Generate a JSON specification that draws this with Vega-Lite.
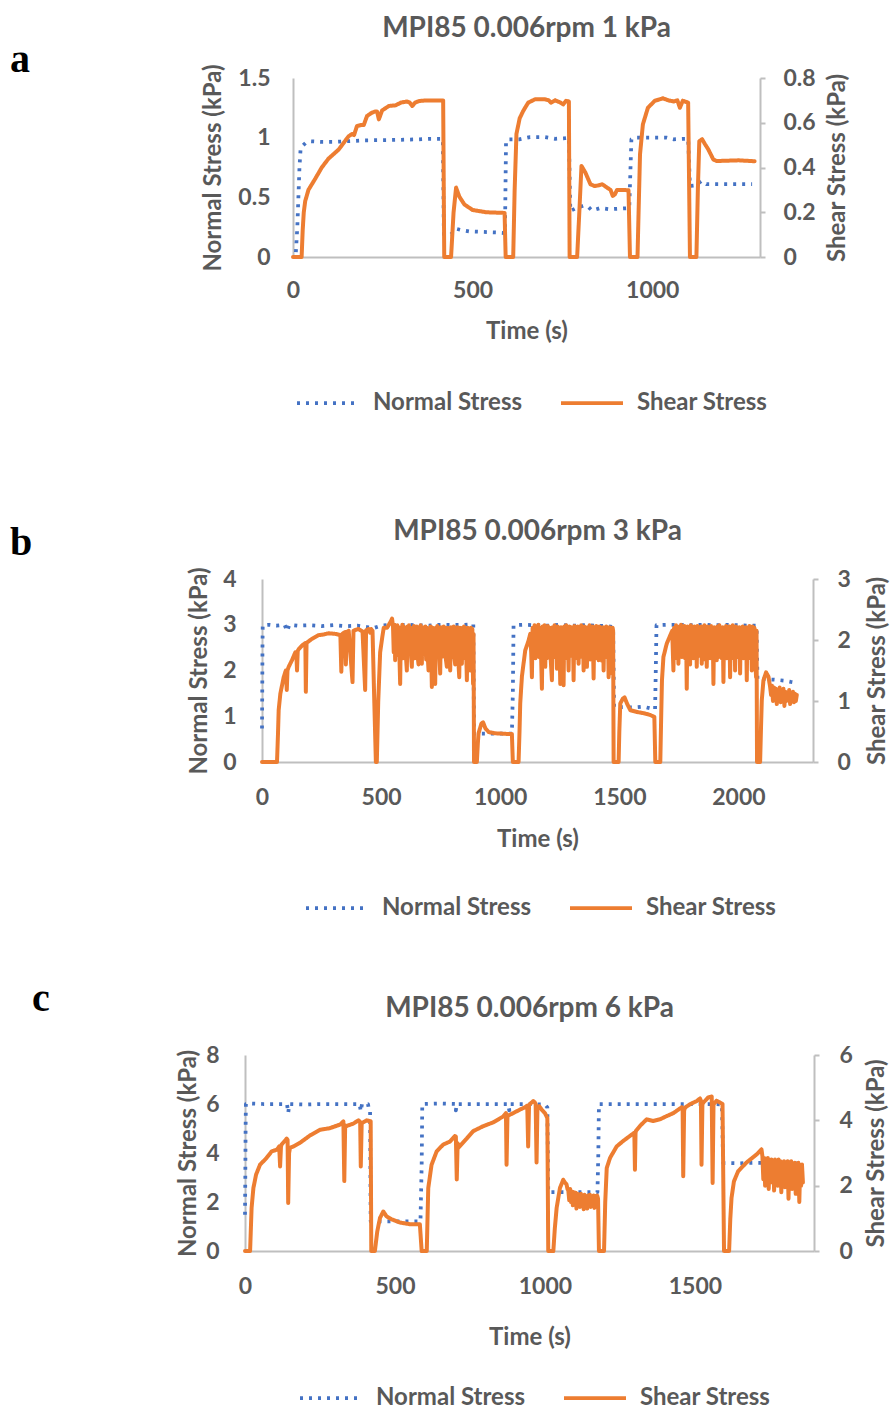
{
"$schema": "https://vega.github.io/schema/vega-lite/v6.json",
"background": "white",
"padding": {"left": 10, "top": 14, "right": 0, "bottom": 0},
"config": {
 "font": "Lato",
 "view": {"stroke": null},
 "axis": {"labelFont": "Lato", "labelFontWeight": "bold", "labelColor": "#595959", "labelFontSize": 23, "titleFont": "Lato", "titleFontWeight": "bold", "titleColor": "#595959", "titleFontSize": 24, "grid": false, "domainColor": "#BFBFBF", "domainWidth": 2, "tickColor": "#BFBFBF", "tickWidth": 2, "ticks": false},
 "title": {"font": "Lato", "fontWeight": "bold", "color": "#595959", "fontSize": 28},
 "legend": {"labelFont": "Lato", "labelFontSize": 24, "labelFontWeight": "bold", "labelColor": "#595959", "symbolSize": 3844, "symbolStrokeWidth": 3.75, "labelOffset": 12, "columnPadding": 30, "orient": "none", "direction": "horizontal"}
},
"datasets": {
"aN": [{"time":8,"stress":0.04},{"time":12,"stress":0.25},{"time":15,"stress":0.5},{"time":18,"stress":0.75},{"time":21,"stress":0.9},{"time":26,"stress":0.93},{"time":35,"stress":0.955},{"time":50,"stress":0.97},{"time":80,"stress":0.965},{"time":120,"stress":0.965},{"time":150,"stress":0.97},{"time":200,"stress":0.978},{"time":260,"stress":0.98},{"time":300,"stress":0.982},{"time":350,"stress":0.986},{"time":380,"stress":0.99},{"time":417,"stress":0.99},{"time":420,"stress":0.19},{"time":440,"stress":0.19},{"time":454,"stress":0.237},{"time":470,"stress":0.225},{"time":490,"stress":0.215},{"time":530,"stress":0.21},{"time":570,"stress":0.205},{"time":590,"stress":0.2},{"time":593,"stress":0.97},{"time":600,"stress":0.985},{"time":630,"stress":0.986},{"time":660,"stress":1.005},{"time":700,"stress":1.005},{"time":730,"stress":0.99},{"time":755,"stress":0.995},{"time":768,"stress":1.0},{"time":772,"stress":0.386},{"time":785,"stress":0.405},{"time":808,"stress":0.43},{"time":822,"stress":0.42},{"time":832,"stress":0.39},{"time":856,"stress":0.41},{"time":880,"stress":0.4},{"time":908,"stress":0.405},{"time":936,"stress":0.41},{"time":942,"stress":0.986},{"time":954,"stress":1.0},{"time":1000,"stress":1.0},{"time":1040,"stress":1.0},{"time":1060,"stress":0.986},{"time":1090,"stress":0.99},{"time":1100,"stress":0.99},{"time":1105,"stress":0.595},{"time":1120,"stress":0.6},{"time":1137,"stress":0.637},{"time":1151,"stress":0.61},{"time":1200,"stress":0.61},{"time":1278,"stress":0.61}],
"aS": [{"time":0,"stress":0},{"time":24,"stress":0},{"time":27,"stress":0.12},{"time":30,"stress":0.2},{"time":34,"stress":0.25},{"time":43,"stress":0.3},{"time":62,"stress":0.35},{"time":80,"stress":0.4},{"time":99,"stress":0.44},{"time":127,"stress":0.48},{"time":155,"stress":0.54},{"time":165,"stress":0.55},{"time":170,"stress":0.545},{"time":178,"stress":0.585},{"time":190,"stress":0.59},{"time":197,"stress":0.59},{"time":206,"stress":0.63},{"time":215,"stress":0.64},{"time":220,"stress":0.645},{"time":228,"stress":0.65},{"time":234,"stress":0.65},{"time":239,"stress":0.615},{"time":248,"stress":0.655},{"time":267,"stress":0.675},{"time":286,"stress":0.678},{"time":300,"stress":0.69},{"time":318,"stress":0.695},{"time":325,"stress":0.69},{"time":332,"stress":0.675},{"time":340,"stress":0.69},{"time":351,"stress":0.697},{"time":370,"stress":0.7},{"time":400,"stress":0.7},{"time":418,"stress":0.7},{"time":421,"stress":0},{"time":440,"stress":0},{"time":447,"stress":0.2},{"time":454,"stress":0.31},{"time":463,"stress":0.27},{"time":477,"stress":0.235},{"time":500,"stress":0.21},{"time":538,"stress":0.2},{"time":570,"stress":0.198},{"time":589,"stress":0.197},{"time":592,"stress":0},{"time":613,"stress":0},{"time":617,"stress":0.3},{"time":622,"stress":0.55},{"time":631,"stress":0.62},{"time":640,"stress":0.65},{"time":646,"stress":0.667},{"time":655,"stress":0.69},{"time":674,"stress":0.705},{"time":700,"stress":0.705},{"time":712,"stress":0.7},{"time":718,"stress":0.69},{"time":730,"stress":0.7},{"time":745,"stress":0.69},{"time":752,"stress":0.682},{"time":760,"stress":0.698},{"time":768,"stress":0.695},{"time":770,"stress":0},{"time":791,"stress":0},{"time":797,"stress":0.2},{"time":803,"stress":0.407},{"time":814,"stress":0.377},{"time":828,"stress":0.325},{"time":840,"stress":0.317},{"time":850,"stress":0.32},{"time":861,"stress":0.325},{"time":875,"stress":0.309},{"time":884,"stress":0.3},{"time":890,"stress":0.273},{"time":896,"stress":0.28},{"time":902,"stress":0.3},{"time":917,"stress":0.3},{"time":934,"stress":0.298},{"time":938,"stress":0},{"time":959,"stress":0},{"time":962,"stress":0.2},{"time":966,"stress":0.459},{"time":974,"stress":0.593},{"time":988,"stress":0.667},{"time":1007,"stress":0.698},{"time":1030,"stress":0.709},{"time":1045,"stress":0.7},{"time":1060,"stress":0.695},{"time":1070,"stress":0.7},{"time":1077,"stress":0.667},{"time":1085,"stress":0.698},{"time":1100,"stress":0.69},{"time":1105,"stress":0},{"time":1123,"stress":0},{"time":1127,"stress":0.3},{"time":1131,"stress":0.518},{"time":1139,"stress":0.526},{"time":1147,"stress":0.504},{"time":1156,"stress":0.481},{"time":1170,"stress":0.436},{"time":1179,"stress":0.429},{"time":1200,"stress":0.43},{"time":1240,"stress":0.432},{"time":1285,"stress":0.428}],
"bN": [{"time":0,"stress":0.73},{"time":1,"stress":1.5},{"time":2,"stress":2.5},{"time":3,"stress":2.99},{"time":30,"stress":3.0},{"time":60,"stress":2.98},{"time":95,"stress":3.0},{"time":105,"stress":2.86},{"time":115,"stress":3.0},{"time":150,"stress":2.98},{"time":200,"stress":2.99},{"time":250,"stress":2.97},{"time":300,"stress":2.99},{"time":350,"stress":2.97},{"time":400,"stress":2.98},{"time":440,"stress":2.95},{"time":470,"stress":2.93},{"time":500,"stress":2.98},{"time":550,"stress":3.0},{"time":600,"stress":3.0},{"time":650,"stress":2.99},{"time":700,"stress":2.98},{"time":750,"stress":3.0},{"time":800,"stress":3.0},{"time":850,"stress":3.0},{"time":887,"stress":3.01},{"time":890,"stress":0.62},{"time":920,"stress":0.62},{"time":960,"stress":0.62},{"time":1000,"stress":0.62},{"time":1049,"stress":0.62},{"time":1053,"stress":1.5},{"time":1056,"stress":2.99},{"time":1100,"stress":3.0},{"time":1150,"stress":2.99},{"time":1200,"stress":2.98},{"time":1250,"stress":3.0},{"time":1300,"stress":2.98},{"time":1350,"stress":2.99},{"time":1400,"stress":2.98},{"time":1450,"stress":2.97},{"time":1474,"stress":2.95},{"time":1478,"stress":1.2},{"time":1520,"stress":1.2},{"time":1560,"stress":1.19},{"time":1600,"stress":1.21},{"time":1640,"stress":1.16},{"time":1650,"stress":1.15},{"time":1653,"stress":2.0},{"time":1656,"stress":2.99},{"time":1700,"stress":3.0},{"time":1750,"stress":3.0},{"time":1800,"stress":2.99},{"time":1850,"stress":3.0},{"time":1900,"stress":2.99},{"time":1950,"stress":3.0},{"time":2000,"stress":2.99},{"time":2050,"stress":2.98},{"time":2076,"stress":2.98},{"time":2080,"stress":1.8},{"time":2110,"stress":1.81},{"time":2150,"stress":1.8},{"time":2190,"stress":1.78},{"time":2220,"stress":1.75},{"time":2243,"stress":1.73}],
"bS": [{"time":0,"stress":0},{"time":63,"stress":0},{"time":67,"stress":0.45},{"time":70,"stress":0.85},{"time":77,"stress":1.12},{"time":91,"stress":1.39},{"time":100,"stress":1.5},{"time":104,"stress":1.18},{"time":107,"stress":1.5},{"time":112,"stress":1.56},{"time":126,"stress":1.67},{"time":140,"stress":1.8},{"time":144,"stress":1.8},{"time":147,"stress":1.5},{"time":150,"stress":1.82},{"time":154,"stress":1.85},{"time":168,"stress":1.91},{"time":182,"stress":1.95},{"time":184,"stress":1.15},{"time":187,"stress":1.95},{"time":193,"stress":1.97},{"time":210,"stress":2.02},{"time":238,"stress":2.08},{"time":259,"stress":2.09},{"time":280,"stress":2.11},{"time":308,"stress":2.1},{"time":329,"stress":2.08},{"time":333,"stress":1.48},{"time":337,"stress":2.1},{"time":349,"stress":2.13},{"time":352,"stress":1.6},{"time":356,"stress":2.13},{"time":364,"stress":2.15},{"time":380,"stress":1.31},{"time":384,"stress":2.15},{"time":389,"stress":2.16},{"time":405,"stress":2.18},{"time":422,"stress":2.14},{"time":433,"stress":1.18},{"time":437,"stress":2.16},{"time":447,"stress":2.18},{"time":454,"stress":2.12},{"time":458,"stress":2.18},{"time":464,"stress":2.15},{"time":470,"stress":1.2},{"time":478,"stress":0},{"time":482,"stress":0},{"time":488,"stress":1.0},{"time":496,"stress":1.8},{"time":505,"stress":2.05},{"time":511,"stress":2.2},{"time":525,"stress":2.2},{"time":540,"stress":2.3},{"time":546,"stress":2.35},
{"time":550,"stress":2.22},{"time":553,"stress":1.8},{"time":556,"stress":2.25},{"time":559,"stress":1.67},{"time":562,"stress":2.2},{"time":565,"stress":1.75},{"time":568,"stress":2.24},{"time":571,"stress":1.85},{"time":574,"stress":2.21},{"time":577,"stress":1.72},{"time":580,"stress":1.28},{"time":583,"stress":2.2},{"time":586,"stress":1.82},{"time":589,"stress":2.25},{"time":592,"stress":1.7},{"time":595,"stress":2.22},{"time":598,"stress":1.86},{"time":601,"stress":2.2},{"time":604,"stress":1.74},{"time":608,"stress":1.5},{"time":611,"stress":2.22},{"time":614,"stress":1.8},{"time":617,"stress":2.24},{"time":620,"stress":1.88},{"time":623,"stress":2.18},{"time":626,"stress":1.72},{"time":629,"stress":1.56},{"time":632,"stress":2.2},{"time":635,"stress":1.84},{"time":638,"stress":2.23},{"time":641,"stress":1.7},{"time":644,"stress":2.19},{"time":647,"stress":1.83},{"time":650,"stress":2.22},{"time":653,"stress":1.75},{"time":657,"stress":1.6},{"time":660,"stress":2.2},{"time":663,"stress":1.78},{"time":666,"stress":2.24},{"time":671,"stress":1.61},{"time":674,"stress":2.18},{"time":677,"stress":1.76},{"time":680,"stress":2.21},{"time":683,"stress":1.86},{"time":686,"stress":2.22},{"time":689,"stress":1.68},{"time":692,"stress":2.2},{"time":695,"stress":1.8},{"time":699,"stress":1.5},{"time":702,"stress":2.19},{"time":705,"stress":1.74},{"time":708,"stress":2.22},{"time":713,"stress":1.23},{"time":716,"stress":2.2},{"time":719,"stress":1.82},{"time":722,"stress":2.18},{"time":727,"stress":1.28},{"time":730,"stress":2.2},{"time":733,"stress":1.72},{"time":736,"stress":2.23},{"time":739,"stress":1.85},{"time":742,"stress":2.2},{"time":745,"stress":1.7},{"time":748,"stress":1.45},{"time":751,"stress":2.21},{"time":754,"stress":1.8},{"time":757,"stress":2.19},{"time":760,"stress":1.73},{"time":763,"stress":2.22},{"time":766,"stress":1.86},{"time":769,"stress":2.2},{"time":772,"stress":1.68},{"time":776,"stress":1.56},{"time":779,"stress":2.2},{"time":782,"stress":1.8},{"time":785,"stress":2.18},{"time":790,"stress":1.5},{"time":793,"stress":2.21},{"time":796,"stress":1.72},{"time":799,"stress":2.2},{"time":802,"stress":1.84},{"time":805,"stress":2.22},{"time":808,"stress":1.7},{"time":811,"stress":1.6},{"time":814,"stress":2.19},{"time":817,"stress":1.8},{"time":820,"stress":2.21},{"time":823,"stress":1.74},{"time":828,"stress":1.39},{"time":831,"stress":2.2},{"time":834,"stress":1.82},{"time":839,"stress":1.61},{"time":842,"stress":2.2},{"time":845,"stress":1.75},{"time":848,"stress":2.22},{"time":851,"stress":1.7},{"time":854,"stress":2.18},{"time":857,"stress":1.83},{"time":860,"stress":1.34},{"time":863,"stress":2.2},{"time":866,"stress":1.78},{"time":869,"stress":2.19},{"time":874,"stress":1.5},{"time":877,"stress":2.2},{"time":880,"stress":1.74},{"time":883,"stress":2.18},{"time":886,"stress":1.28},{"time":888,"stress":2.1},
{"time":890,"stress":0},{"time":902,"stress":0},{"time":906,"stress":0.3},{"time":909,"stress":0.47},{"time":921,"stress":0.63},{"time":928,"stress":0.65},{"time":938,"stress":0.55},{"time":952,"stress":0.49},{"time":980,"stress":0.47},{"time":1010,"stress":0.465},{"time":1030,"stress":0.46},{"time":1049,"stress":0.46},{"time":1053,"stress":0},{"time":1077,"stress":0},{"time":1081,"stress":0.5},{"time":1084,"stress":0.96},{"time":1091,"stress":1.4},{"time":1105,"stress":1.83},{"time":1119,"stress":1.99},
{"time":1126,"stress":2.1},{"time":1130,"stress":1.8},{"time":1133,"stress":1.39},{"time":1136,"stress":2.2},{"time":1140,"stress":1.78},{"time":1144,"stress":2.24},{"time":1148,"stress":1.7},{"time":1152,"stress":2.22},{"time":1156,"stress":1.84},{"time":1160,"stress":2.25},{"time":1164,"stress":1.72},{"time":1168,"stress":2.2},{"time":1171,"stress":1.82},{"time":1175,"stress":1.2},{"time":1178,"stress":2.22},{"time":1182,"stress":1.75},{"time":1186,"stress":2.24},{"time":1189,"stress":1.56},{"time":1192,"stress":2.2},{"time":1196,"stress":1.7},{"time":1200,"stress":2.23},{"time":1204,"stress":1.85},{"time":1208,"stress":2.2},{"time":1212,"stress":1.68},{"time":1217,"stress":1.34},{"time":1220,"stress":2.21},{"time":1224,"stress":1.8},{"time":1228,"stress":2.24},{"time":1232,"stress":1.72},{"time":1235,"stress":2.2},{"time":1238,"stress":1.53},{"time":1241,"stress":2.22},{"time":1245,"stress":1.78},{"time":1248,"stress":2.2},{"time":1252,"stress":1.28},{"time":1255,"stress":2.21},{"time":1259,"stress":1.84},{"time":1262,"stress":2.2},{"time":1266,"stress":1.26},{"time":1269,"stress":2.22},{"time":1273,"stress":1.7},{"time":1277,"stress":2.24},{"time":1280,"stress":1.82},{"time":1283,"stress":2.2},{"time":1287,"stress":1.5},{"time":1290,"stress":2.22},{"time":1294,"stress":1.74},{"time":1298,"stress":2.21},{"time":1302,"stress":1.85},{"time":1305,"stress":2.2},{"time":1308,"stress":1.34},{"time":1311,"stress":2.23},{"time":1315,"stress":1.78},{"time":1319,"stress":2.2},{"time":1322,"stress":1.7},{"time":1325,"stress":2.22},{"time":1329,"stress":1.61},{"time":1332,"stress":2.2},{"time":1336,"stress":1.8},{"time":1340,"stress":2.24},{"time":1343,"stress":1.72},{"time":1347,"stress":2.2},{"time":1350,"stress":1.5},{"time":1353,"stress":2.22},{"time":1357,"stress":1.84},{"time":1360,"stress":2.2},{"time":1364,"stress":1.56},{"time":1367,"stress":2.21},{"time":1371,"stress":1.76},{"time":1375,"stress":2.24},{"time":1378,"stress":1.68},{"time":1382,"stress":2.2},{"time":1385,"stress":1.83},{"time":1388,"stress":2.22},{"time":1392,"stress":1.37},{"time":1395,"stress":2.2},{"time":1399,"stress":1.78},{"time":1403,"stress":2.23},{"time":1406,"stress":1.7},{"time":1410,"stress":2.2},{"time":1413,"stress":1.67},{"time":1416,"stress":2.22},{"time":1420,"stress":1.8},{"time":1424,"stress":2.2},{"time":1427,"stress":1.66},{"time":1431,"stress":2.21},{"time":1434,"stress":1.5},{"time":1437,"stress":2.2},{"time":1441,"stress":1.82},{"time":1445,"stress":2.22},{"time":1448,"stress":1.72},{"time":1452,"stress":2.2},{"time":1455,"stress":1.39},{"time":1458,"stress":2.21},{"time":1462,"stress":1.78},{"time":1466,"stress":2.2},{"time":1469,"stress":1.45},{"time":1472,"stress":2.2},{"time":1474,"stress":2.15},
{"time":1476,"stress":0},{"time":1497,"stress":0},{"time":1500,"stress":0.5},{"time":1504,"stress":0.96},{"time":1515,"stress":1.04},{"time":1522,"stress":1.06},{"time":1532,"stress":0.96},{"time":1546,"stress":0.85},{"time":1574,"stress":0.82},{"time":1602,"stress":0.8},{"time":1630,"stress":0.77},{"time":1647,"stress":0.74},{"time":1651,"stress":0},{"time":1672,"stress":0},{"time":1676,"stress":0.8},{"time":1679,"stress":1.34},{"time":1685,"stress":1.72},{"time":1699,"stress":1.94},{"time":1713,"stress":2.07},{"time":1722,"stress":2.15},
{"time":1727,"stress":1.5},{"time":1730,"stress":2.2},{"time":1734,"stress":1.8},{"time":1738,"stress":2.24},{"time":1741,"stress":1.7},{"time":1745,"stress":2.22},{"time":1748,"stress":1.61},{"time":1751,"stress":2.2},{"time":1755,"stress":1.82},{"time":1759,"stress":2.25},{"time":1762,"stress":1.72},{"time":1766,"stress":2.2},{"time":1769,"stress":1.85},{"time":1773,"stress":2.23},{"time":1776,"stress":1.7},{"time":1780,"stress":2.2},{"time":1783,"stress":1.2},{"time":1786,"stress":2.22},{"time":1790,"stress":1.78},{"time":1794,"stress":2.2},{"time":1797,"stress":1.6},{"time":1800,"stress":2.24},{"time":1804,"stress":1.82},{"time":1808,"stress":2.2},{"time":1811,"stress":1.7},{"time":1815,"stress":2.22},{"time":1818,"stress":1.84},{"time":1822,"stress":2.2},{"time":1825,"stress":1.56},{"time":1828,"stress":2.23},{"time":1832,"stress":1.74},{"time":1836,"stress":2.2},{"time":1839,"stress":1.85},{"time":1843,"stress":2.22},{"time":1846,"stress":1.61},{"time":1849,"stress":2.2},{"time":1853,"stress":1.78},{"time":1857,"stress":2.24},{"time":1860,"stress":1.68},{"time":1864,"stress":2.2},{"time":1867,"stress":1.56},{"time":1870,"stress":2.22},{"time":1874,"stress":1.8},{"time":1878,"stress":2.2},{"time":1881,"stress":1.7},{"time":1885,"stress":2.23},{"time":1888,"stress":1.84},{"time":1892,"stress":2.2},{"time":1895,"stress":1.28},{"time":1898,"stress":2.21},{"time":1902,"stress":1.76},{"time":1906,"stress":2.2},{"time":1909,"stress":1.67},{"time":1912,"stress":2.22},{"time":1916,"stress":1.72},{"time":1920,"stress":2.24},{"time":1923,"stress":1.83},{"time":1927,"stress":2.2},{"time":1930,"stress":1.7},{"time":1934,"stress":2.21},{"time":1937,"stress":1.31},{"time":1940,"stress":2.2},{"time":1944,"stress":1.8},{"time":1948,"stress":2.23},{"time":1951,"stress":1.7},{"time":1955,"stress":2.2},{"time":1958,"stress":1.85},{"time":1962,"stress":2.22},{"time":1965,"stress":1.39},{"time":1968,"stress":2.2},{"time":1972,"stress":1.78},{"time":1976,"stress":2.24},{"time":1979,"stress":1.7},{"time":1983,"stress":2.2},{"time":1986,"stress":1.5},{"time":1989,"stress":2.22},{"time":1993,"stress":1.8},{"time":1997,"stress":2.2},{"time":2000,"stress":1.72},{"time":2004,"stress":2.21},{"time":2007,"stress":1.45},{"time":2010,"stress":2.2},{"time":2014,"stress":1.82},{"time":2018,"stress":2.22},{"time":2021,"stress":1.7},{"time":2025,"stress":2.2},{"time":2028,"stress":1.84},{"time":2032,"stress":2.21},{"time":2035,"stress":1.34},{"time":2038,"stress":2.2},{"time":2042,"stress":1.76},{"time":2046,"stress":2.23},{"time":2049,"stress":1.7},{"time":2053,"stress":2.2},{"time":2056,"stress":1.5},{"time":2059,"stress":2.22},{"time":2063,"stress":1.8},{"time":2067,"stress":2.2},{"time":2070,"stress":1.72},{"time":2074,"stress":1.39},{"time":2076,"stress":2.15},
{"time":2078,"stress":0},{"time":2091,"stress":0},{"time":2095,"stress":0.6},{"time":2098,"stress":1.01},{"time":2105,"stress":1.34},{"time":2116,"stress":1.47},{"time":2126,"stress":1.4},{"time":2133,"stress":1.23},{"time":2137,"stress":1.1},{"time":2141,"stress":1.25},{"time":2145,"stress":1.0},{"time":2149,"stress":1.22},{"time":2153,"stress":1.05},{"time":2157,"stress":1.2},{"time":2161,"stress":0.95},{"time":2165,"stress":1.18},{"time":2169,"stress":1.05},{"time":2173,"stress":1.22},{"time":2177,"stress":0.98},{"time":2181,"stress":1.15},{"time":2185,"stress":1.08},{"time":2189,"stress":1.2},{"time":2193,"stress":0.92},{"time":2197,"stress":1.15},{"time":2201,"stress":1.0},{"time":2205,"stress":1.12},{"time":2209,"stress":1.05},{"time":2213,"stress":1.18},{"time":2217,"stress":0.95},{"time":2221,"stress":1.1},{"time":2225,"stress":1.0},{"time":2229,"stress":1.15},{"time":2233,"stress":0.98},{"time":2237,"stress":1.12},{"time":2241,"stress":1.0},{"time":2245,"stress":1.1}],
"cN": [{"time":0,"stress":1.48},{"time":1,"stress":3.0},{"time":2,"stress":5.0},{"time":3,"stress":6.0},{"time":20,"stress":6.02},{"time":60,"stress":6.0},{"time":100,"stress":6.0},{"time":140,"stress":6.0},{"time":144,"stress":5.63},{"time":148,"stress":6.0},{"time":200,"stress":5.98},{"time":250,"stress":6.0},{"time":300,"stress":6.0},{"time":350,"stress":6.0},{"time":382,"stress":6.0},{"time":386,"stress":5.7},{"time":390,"stress":6.0},{"time":410,"stress":6.0},{"time":414,"stress":5.72},{"time":417,"stress":5.7},{"time":419,"stress":1.21},{"time":450,"stress":1.21},{"time":500,"stress":1.21},{"time":550,"stress":1.21},{"time":585,"stress":1.21},{"time":589,"stress":3.5},{"time":591,"stress":6.0},{"time":650,"stress":6.02},{"time":700,"stress":6.0},{"time":703,"stress":5.74},{"time":706,"stress":6.0},{"time":750,"stress":6.0},{"time":800,"stress":6.0},{"time":850,"stress":6.0},{"time":878,"stress":6.0},{"time":881,"stress":5.74},{"time":884,"stress":6.0},{"time":950,"stress":6.0},{"time":1000,"stress":5.98},{"time":1008,"stress":5.86},{"time":1011,"stress":2.4},{"time":1050,"stress":2.4},{"time":1100,"stress":2.4},{"time":1150,"stress":2.4},{"time":1175,"stress":2.4},{"time":1178,"stress":4.0},{"time":1180,"stress":6.0},{"time":1250,"stress":6.0},{"time":1300,"stress":6.0},{"time":1400,"stress":6.0},{"time":1500,"stress":6.0},{"time":1560,"stress":6.0},{"time":1590,"stress":5.98},{"time":1594,"stress":3.59},{"time":1650,"stress":3.58},{"time":1700,"stress":3.6},{"time":1750,"stress":3.59},{"time":1800,"stress":3.6},{"time":1859,"stress":3.56}],
"cS": [{"time":0,"stress":0},{"time":17,"stress":0},{"time":20,"stress":0.8},{"time":22,"stress":1.32},{"time":28,"stress":1.93},{"time":37,"stress":2.34},{"time":50,"stress":2.64},{"time":72,"stress":2.85},{"time":89,"stress":3.05},{"time":106,"stress":3.1},{"time":114,"stress":3.2},{"time":117,"stress":2.59},{"time":120,"stress":3.2},{"time":122,"stress":3.26},{"time":139,"stress":3.44},{"time":142,"stress":3.4},{"time":144,"stress":1.47},{"time":147,"stress":3.0},{"time":150,"stress":3.16},{"time":161,"stress":3.2},{"time":183,"stress":3.31},{"time":217,"stress":3.54},{"time":250,"stress":3.71},{"time":283,"stress":3.76},{"time":317,"stress":3.87},{"time":328,"stress":3.97},{"time":331,"stress":2.14},{"time":334,"stress":3.85},{"time":337,"stress":3.82},{"time":361,"stress":3.9},{"time":378,"stress":4.0},{"time":384,"stress":3.95},{"time":386,"stress":2.59},{"time":389,"stress":3.9},{"time":392,"stress":3.93},{"time":406,"stress":4.0},{"time":419,"stress":3.97},{"time":421,"stress":0},{"time":433,"stress":0},{"time":437,"stress":0.3},{"time":441,"stress":0.6},{"time":450,"stress":1.01},{"time":461,"stress":1.21},{"time":472,"stress":1.06},{"time":489,"stress":0.97},{"time":517,"stress":0.87},{"time":550,"stress":0.82},{"time":583,"stress":0.82},{"time":589,"stress":0},{"time":606,"stress":0},{"time":609,"stress":1.2},{"time":611,"stress":1.93},{"time":622,"stress":2.64},{"time":639,"stress":3.05},{"time":661,"stress":3.26},{"time":683,"stress":3.35},{"time":700,"stress":3.52},{"time":703,"stress":3.5},{"time":706,"stress":2.19},{"time":709,"stress":3.3},{"time":711,"stress":3.16},{"time":739,"stress":3.44},{"time":761,"stress":3.67},{"time":794,"stress":3.82},{"time":828,"stress":3.94},{"time":861,"stress":4.12},{"time":870,"stress":4.22},{"time":872,"stress":2.64},{"time":875,"stress":4.1},{"time":878,"stress":4.15},{"time":894,"stress":4.22},{"time":917,"stress":4.33},{"time":933,"stress":4.4},{"time":941,"stress":4.45},{"time":944,"stress":3.2},{"time":947,"stress":4.45},{"time":950,"stress":4.5},{"time":961,"stress":4.59},{"time":966,"stress":4.55},{"time":969,"stress":4.5},{"time":972,"stress":2.71},{"time":975,"stress":4.4},{"time":981,"stress":4.43},{"time":989,"stress":4.33},{"time":1000,"stress":4.22},{"time":1008,"stress":4.07},{"time":1011,"stress":0},{"time":1028,"stress":0},{"time":1033,"stress":0.7},{"time":1039,"stress":1.32},{"time":1050,"stress":1.93},{"time":1061,"stress":2.18},{"time":1066,"stress":2.1},{"time":1072,"stress":2.04},{"time":1075,"stress":1.9},{"time":1078,"stress":1.85},{"time":1081,"stress":1.55},{"time":1084,"stress":1.9},{"time":1087,"stress":1.5},{"time":1090,"stress":1.82},{"time":1093,"stress":1.4},{"time":1096,"stress":1.8},{"time":1099,"stress":1.55},{"time":1102,"stress":1.78},{"time":1105,"stress":1.3},{"time":1108,"stress":1.75},{"time":1111,"stress":1.5},{"time":1114,"stress":1.72},{"time":1117,"stress":1.35},{"time":1120,"stress":1.75},{"time":1123,"stress":1.52},{"time":1126,"stress":1.7},{"time":1129,"stress":1.28},{"time":1132,"stress":1.72},{"time":1135,"stress":1.5},{"time":1138,"stress":1.68},{"time":1141,"stress":1.3},{"time":1144,"stress":1.7},{"time":1147,"stress":1.48},{"time":1150,"stress":1.72},{"time":1153,"stress":1.35},{"time":1156,"stress":1.68},{"time":1159,"stress":1.5},{"time":1162,"stress":1.7},{"time":1165,"stress":1.32},{"time":1168,"stress":1.68},{"time":1171,"stress":1.45},{"time":1174,"stress":1.7},{"time":1177,"stress":1.6},{"time":1180,"stress":0},{"time":1197,"stress":0},{"time":1201,"stress":1.5},{"time":1206,"stress":2.54},{"time":1217,"stress":2.85},{"time":1239,"stress":3.2},{"time":1261,"stress":3.37},{"time":1283,"stress":3.52},{"time":1298,"stress":3.62},{"time":1300,"stress":2.49},{"time":1302,"stress":3.6},{"time":1303,"stress":3.67},{"time":1317,"stress":3.83},{"time":1339,"stress":4.03},{"time":1361,"stress":3.98},{"time":1383,"stress":4.03},{"time":1406,"stress":4.13},{"time":1428,"stress":4.22},{"time":1456,"stress":4.4},{"time":1459,"stress":4.35},{"time":1461,"stress":2.29},{"time":1464,"stress":4.3},{"time":1467,"stress":4.39},{"time":1483,"stress":4.49},{"time":1506,"stress":4.59},{"time":1517,"stress":4.67},{"time":1520,"stress":4.6},{"time":1522,"stress":2.64},{"time":1525,"stress":4.5},{"time":1528,"stress":4.54},{"time":1544,"stress":4.7},{"time":1556,"stress":4.73},{"time":1559,"stress":2.08},{"time":1562,"stress":4.5},{"time":1567,"stress":4.54},{"time":1572,"stress":4.6},{"time":1583,"stress":4.55},{"time":1592,"stress":4.5},{"time":1597,"stress":0},{"time":1614,"stress":0},{"time":1618,"stress":1.0},{"time":1622,"stress":1.62},{"time":1630,"stress":2.13},{"time":1644,"stress":2.44},{"time":1672,"stress":2.71},{"time":1706,"stress":2.96},{"time":1722,"stress":3.11},{"time":1725,"stress":2.9},{"time":1728,"stress":2.2},{"time":1731,"stress":2.85},{"time":1734,"stress":2.0},{"time":1737,"stress":2.8},{"time":1740,"stress":2.3},{"time":1743,"stress":2.85},{"time":1746,"stress":1.9},{"time":1749,"stress":2.75},{"time":1752,"stress":2.3},{"time":1755,"stress":2.8},{"time":1758,"stress":2.1},{"time":1761,"stress":2.75},{"time":1764,"stress":1.85},{"time":1767,"stress":2.8},{"time":1770,"stress":2.25},{"time":1773,"stress":2.7},{"time":1776,"stress":2.0},{"time":1779,"stress":2.8},{"time":1782,"stress":2.3},{"time":1785,"stress":2.75},{"time":1788,"stress":1.8},{"time":1791,"stress":2.7},{"time":1794,"stress":2.2},{"time":1797,"stress":2.75},{"time":1800,"stress":1.95},{"time":1803,"stress":2.7},{"time":1806,"stress":2.25},{"time":1809,"stress":2.75},{"time":1812,"stress":1.6},{"time":1815,"stress":2.7},{"time":1818,"stress":2.1},{"time":1821,"stress":2.75},{"time":1824,"stress":1.9},{"time":1827,"stress":2.65},{"time":1830,"stress":2.2},{"time":1833,"stress":2.7},{"time":1836,"stress":1.75},{"time":1839,"stress":2.6},{"time":1842,"stress":2.15},{"time":1845,"stress":2.7},{"time":1848,"stress":1.5},{"time":1851,"stress":2.6},{"time":1854,"stress":2.0},{"time":1857,"stress":2.65},{"time":1860,"stress":2.1}]
},
"spacing": 0,
"resolve": {"scale": {"color": "independent", "strokeDash": "independent"}, "legend": {"color": "independent", "strokeDash": "independent"}},
"vconcat": [
 {
  "spacing": 0,
  "resolve": {"scale": {"color": "independent", "strokeDash": "independent"}, "legend": {"color": "independent", "strokeDash": "independent"}},
  "hconcat": [
   {"width": 191, "height": 439, "data": {"values": []}, "mark": "point",
    "title": {"text": "a", "anchor": "start", "font": "Liberation Serif", "fontSize": 40, "fontWeight": "bold", "color": "#000000", "offset": -33.5, "baseline": "alphabetic"}},
   {"width": 467, "height": 179,
    "title": {"text": "MPI85 0.006rpm 1 kPa", "offset": -1, "baseline": "alphabetic"},
    "layer": [
     {"data": {"name": "aN"}, "mark": {"type": "line", "strokeWidth": 3.75, "strokeCap": "butt", "strokeJoin": "round"},
      "encoding": {
       "x": {"field": "time", "type": "quantitative", "scale": {"domain": [0, 1300], "nice": false}, "axis": {"title": "Time (s)", "values": [0, 500, 1000], "format": "d", "labelFlush": false, "labelPadding": 22, "titlePadding": 17}},
       "y": {"field": "stress", "type": "quantitative", "scale": {"domain": [0, 1.5], "nice": false}, "axis": {"title": "Normal Stress (kPa)", "values": [0, 0.5, 1, 1.5], "format": "~g", "labelPadding": 23, "titlePadding": 12}},
       "color": {"datum": "Normal Stress", "type": "nominal", "scale": {"domain": ["Normal Stress", "Shear Stress"], "range": ["#4472C4", "#ED7D31"]}, "legend": {"title": null, "legendX": 2, "legendY": 292}},
       "strokeDash": {"datum": "Normal Stress", "type": "nominal", "scale": {"domain": ["Normal Stress", "Shear Stress"], "range": [[3, 6], [1, 0]]}, "legend": {"title": null, "legendX": 2, "legendY": 292}}
      }},
     {"data": {"name": "aS"}, "mark": {"type": "line", "strokeWidth": 4, "strokeCap": "round", "strokeJoin": "round"},
      "encoding": {
       "x": {"field": "time", "type": "quantitative"},
       "y": {"field": "stress", "type": "quantitative", "scale": {"domain": [0, 0.8], "nice": false}, "axis": {"orient": "right", "title": "Shear Stress (kPa)", "values": [0, 0.2, 0.4, 0.6, 0.8], "format": "~g", "ticks": true, "tickSize": 5, "labelPadding": 18, "titlePadding": 10, "titleAngle": -90, "titleBaseline": "top"}},
       "color": {"datum": "Shear Stress", "type": "nominal"},
       "strokeDash": {"datum": "Shear Stress", "type": "nominal"}
      }}
    ],
    "resolve": {"scale": {"y": "independent"}}
   }
  ]
 },
 {
  "spacing": 0,
  "resolve": {"scale": {"color": "independent", "strokeDash": "independent"}, "legend": {"color": "independent", "strokeDash": "independent"}},
  "hconcat": [
   {"width": 177, "height": 400, "data": {"values": []}, "mark": "point",
    "title": {"text": "b", "anchor": "start", "font": "Liberation Serif", "fontSize": 40, "fontWeight": "bold", "color": "#000000", "offset": -16, "baseline": "alphabetic"}},
   {"width": 551, "height": 183,
    "title": {"text": "MPI85 0.006rpm 3 kPa", "offset": -1, "baseline": "alphabetic"},
    "layer": [
     {"data": {"name": "bN"}, "mark": {"type": "line", "strokeWidth": 3.75, "strokeCap": "butt", "strokeJoin": "round"},
      "encoding": {
       "x": {"field": "time", "type": "quantitative", "scale": {"domain": [0, 2313], "nice": false}, "axis": {"title": "Time (s)", "values": [0, 500, 1000, 1500, 2000], "format": "d", "labelFlush": false, "labelPadding": 24, "titlePadding": 18}},
       "y": {"field": "stress", "type": "quantitative", "scale": {"domain": [0, 4], "nice": false}, "axis": {"title": "Normal Stress (kPa)", "values": [0, 1, 2, 3, 4], "format": "~g", "labelPadding": 26, "titlePadding": 11}},
       "color": {"datum": "Normal Stress", "type": "nominal", "scale": {"domain": ["Normal Stress", "Shear Stress"], "range": ["#4472C4", "#ED7D31"]}, "legend": {"title": null, "legendX": 42, "legendY": 296}},
       "strokeDash": {"datum": "Normal Stress", "type": "nominal", "scale": {"domain": ["Normal Stress", "Shear Stress"], "range": [[3, 6], [1, 0]]}, "legend": {"title": null, "legendX": 42, "legendY": 296}}
      }},
     {"data": {"name": "bS"}, "mark": {"type": "line", "strokeWidth": 4, "strokeCap": "round", "strokeJoin": "round"},
      "encoding": {
       "x": {"field": "time", "type": "quantitative"},
       "y": {"field": "stress", "type": "quantitative", "scale": {"domain": [0, 3], "nice": false}, "axis": {"orient": "right", "title": "Shear Stress (kPa)", "values": [0, 1, 2, 3], "format": "~g", "ticks": true, "tickSize": 5, "labelPadding": 19, "titlePadding": 15, "titleAngle": -90, "titleBaseline": "top"}},
       "color": {"datum": "Shear Stress", "type": "nominal"},
       "strokeDash": {"datum": "Shear Stress", "type": "nominal"}
      }}
    ],
    "resolve": {"scale": {"y": "independent"}}
   }
  ]
 },
 {
  "spacing": 0,
  "resolve": {"scale": {"color": "independent", "strokeDash": "independent"}, "legend": {"color": "independent", "strokeDash": "independent"}},
  "hconcat": [
   {"width": 166, "height": 380, "data": {"values": []}, "mark": "point",
    "title": {"text": "c", "anchor": "start", "font": "Liberation Serif", "fontSize": 40, "fontWeight": "bold", "color": "#000000", "offset": 4, "baseline": "alphabetic", "dx": 22}},
   {"width": 569, "height": 196,
    "title": {"text": "MPI85 0.006rpm 6 kPa", "offset": -1, "baseline": "alphabetic"},
    "layer": [
     {"data": {"name": "cN"}, "mark": {"type": "line", "strokeWidth": 3.75, "strokeCap": "butt", "strokeJoin": "round"},
      "encoding": {
       "x": {"field": "time", "type": "quantitative", "scale": {"domain": [0, 1897], "nice": false}, "axis": {"title": "Time (s)", "values": [0, 500, 1000, 1500], "format": "d", "labelFlush": false, "labelPadding": 24, "titlePadding": 27}},
       "y": {"field": "stress", "type": "quantitative", "scale": {"domain": [0, 8], "nice": false}, "axis": {"title": "Normal Stress (kPa)", "values": [0, 2, 4, 6, 8], "format": "~g", "labelPadding": 26, "titlePadding": 5}},
       "color": {"datum": "Normal Stress", "type": "nominal", "scale": {"domain": ["Normal Stress", "Shear Stress"], "range": ["#4472C4", "#ED7D31"]}, "legend": {"title": null, "legendX": 53, "legendY": 310}},
       "strokeDash": {"datum": "Normal Stress", "type": "nominal", "scale": {"domain": ["Normal Stress", "Shear Stress"], "range": [[3, 6], [1, 0]]}, "legend": {"title": null, "legendX": 53, "legendY": 310}}
      }},
     {"data": {"name": "cS"}, "mark": {"type": "line", "strokeWidth": 4, "strokeCap": "round", "strokeJoin": "round"},
      "encoding": {
       "x": {"field": "time", "type": "quantitative"},
       "y": {"field": "stress", "type": "quantitative", "scale": {"domain": [0, 6], "nice": false}, "axis": {"orient": "right", "title": "Shear Stress (kPa)", "values": [0, 2, 4, 6], "format": "~g", "ticks": true, "tickSize": 5, "labelPadding": 20, "titlePadding": 12, "titleAngle": -90, "titleBaseline": "top"}},
       "color": {"datum": "Shear Stress", "type": "nominal"},
       "strokeDash": {"datum": "Shear Stress", "type": "nominal"}
      }}
    ],
    "resolve": {"scale": {"y": "independent"}}
   }
  ]
 }
]
}
